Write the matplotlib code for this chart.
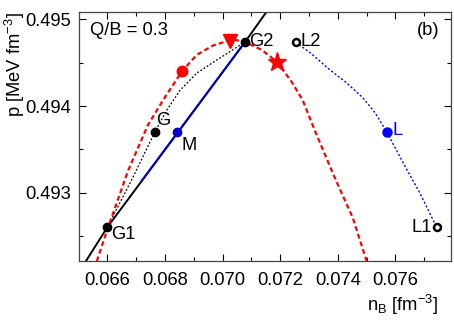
import matplotlib
matplotlib.use('Agg')
import matplotlib.pyplot as plt
from matplotlib.ticker import MultipleLocator

plt.rcParams['font.family'] = ['Liberation Sans', 'DejaVu Sans']

# red dashed curve
red_n = [0.06564, 0.06602, 0.06673, 0.06741, 0.06794, 0.06859, 0.06910, 0.06967,
         0.07036, 0.07078, 0.07136, 0.07189, 0.07240, 0.07278, 0.07320, 0.07386,
         0.07452, 0.07500]
red_p = [0.49221, 0.49259, 0.49326, 0.49378, 0.49407, 0.49440, 0.49459, 0.49470,
         0.49477, 0.49474, 0.49465, 0.49451, 0.49428, 0.49407, 0.49372, 0.49320,
         0.49271, 0.49221]

# black dotted curve
gdot_n = [0.06600, 0.06685, 0.06765, 0.06806, 0.06852, 0.06910, 0.06979, 0.07078]
gdot_p = [0.49260, 0.49315, 0.49370, 0.49395, 0.49418, 0.49438, 0.49453, 0.49474]

# black solid line
line_n = [0.06526, 0.06600, 0.07078, 0.07153]
line_p = [0.49221, 0.49260, 0.49474, 0.49509]

# blue solid segment
blue_n = [0.06720, 0.07078]
blue_p = [0.49314, 0.49474]

# blue dotted curve
ldot_n = [0.07254, 0.07310, 0.07372, 0.07430, 0.07486, 0.07530, 0.07570, 0.07621,
          0.07684, 0.07743]
ldot_p = [0.49474, 0.49460, 0.49442, 0.49427, 0.49410, 0.49392, 0.49370, 0.49338,
          0.49300, 0.49260]

pts = {'G1': (0.06600, 0.49260), 'G': (0.06765, 0.49370), 'M': (0.06842, 0.49370),
       'G2': (0.07078, 0.49474), 'L2': (0.07254, 0.49474), 'L': (0.07570, 0.49370),
       'L1': (0.07743, 0.49260)}
red_circle = (0.06859, 0.49440)
red_tri = (0.07026, 0.49475)
red_star = (0.07189, 0.49451)

fig = plt.figure(figsize=(4.54, 3.21), dpi=100)
ax = fig.add_axes([0.174, 0.187, 0.819, 0.776])

ax.plot(line_n, line_p, color='black', lw=1.4, zorder=2)
ax.plot(blue_n, blue_p, color='#0000cc', lw=1.4, zorder=3)
ax.plot(gdot_n, gdot_p, color='black', lw=0.9, ls=(0, (1.5, 1.5)), zorder=2)
ax.plot(ldot_n, ldot_p, color='blue', lw=1.0, ls=(0, (1.5, 1.5)), zorder=2)
ax.plot(red_n, red_p, color='red', lw=1.6, ls=(0, (2.2, 1.4)), zorder=2)

for k in ['G1', 'G', 'G2']:
    ax.plot(*pts[k], 'o', color='black', ms=6, zorder=5)
ax.plot(*pts['M'], 'o', color='#0000cc', ms=6, zorder=5)
ax.plot(*pts['L'], 'o', color='blue', ms=6.5, zorder=5)
for k in ['L2', 'L1']:
    ax.plot(*pts[k], 'o', mfc='white', mec='black', mew=1.8, ms=5, zorder=5)
ax.plot(*red_circle, 'o', color='red', ms=7.5, zorder=5)
ax.plot(*red_tri, 'v', color='red', ms=10, zorder=5)
ax.plot(*red_star, '*', color='red', ms=14, zorder=5)

fs = 13.2
ax.text(0.06612, 0.49262, 'G1', fontsize=fs, va='top', ha='left')
ax.text(0.06770, 0.49374, 'G', fontsize=fs, va='bottom', ha='left')
ax.text(0.06857, 0.49364, 'M', fontsize=fs, va='top', ha='left')
ax.text(0.07093, 0.49475, 'G2', fontsize=fs, va='center', ha='left')
ax.text(0.07270, 0.49475, 'L2', fontsize=fs, va='center', ha='left')
ax.text(0.07590, 0.49372, 'L', fontsize=fs, va='center', ha='left', color='blue')
ax.text(0.07725, 0.49260, 'L1', fontsize=fs, va='center', ha='right')
ax.text(0.03, 0.925, 'Q/B = 0.3', transform=ax.transAxes, fontsize=fs, va='center')
ax.text(0.97, 0.925, '(b)', transform=ax.transAxes, fontsize=fs, va='center', ha='right')

ax.set_xlim(0.06502, 0.07792)
ax.set_ylim(0.492212, 0.495088)
ax.xaxis.set_major_locator(MultipleLocator(0.002))
ax.xaxis.set_minor_locator(MultipleLocator(0.001))
ax.yaxis.set_major_locator(MultipleLocator(0.001))
ax.yaxis.set_minor_locator(MultipleLocator(0.0005))
ax.xaxis.set_major_formatter(plt.FormatStrFormatter('%.3f'))
ax.yaxis.set_major_formatter(plt.FormatStrFormatter('%.3f'))
ax.tick_params(which='both', direction='in', top=True, right=True, labelsize=fs, width=0.8)
ax.tick_params(which='major', length=5, pad=6)
ax.tick_params(axis='x', which='major', pad=8)
ax.tick_params(which='minor', length=3)
for s in ax.spines.values():
    s.set_linewidth(0.9)
    s.set_color('#444444')

ax.set_xlabel(r'n$_\mathregular{B}$ [fm$^\mathregular{-3}$]', fontsize=fs)
ax.xaxis.set_label_coords(0.965, -0.13)
ax.xaxis.label.set_ha('right')
ax.set_ylabel(r'p [MeV fm$^\mathregular{-3}$]', fontsize=fs)
ax.yaxis.set_label_coords(-0.172, 1.0)
ax.yaxis.label.set_va('center')
ax.yaxis.label.set_ha('right')

fig.savefig('out.png', dpi=100)
